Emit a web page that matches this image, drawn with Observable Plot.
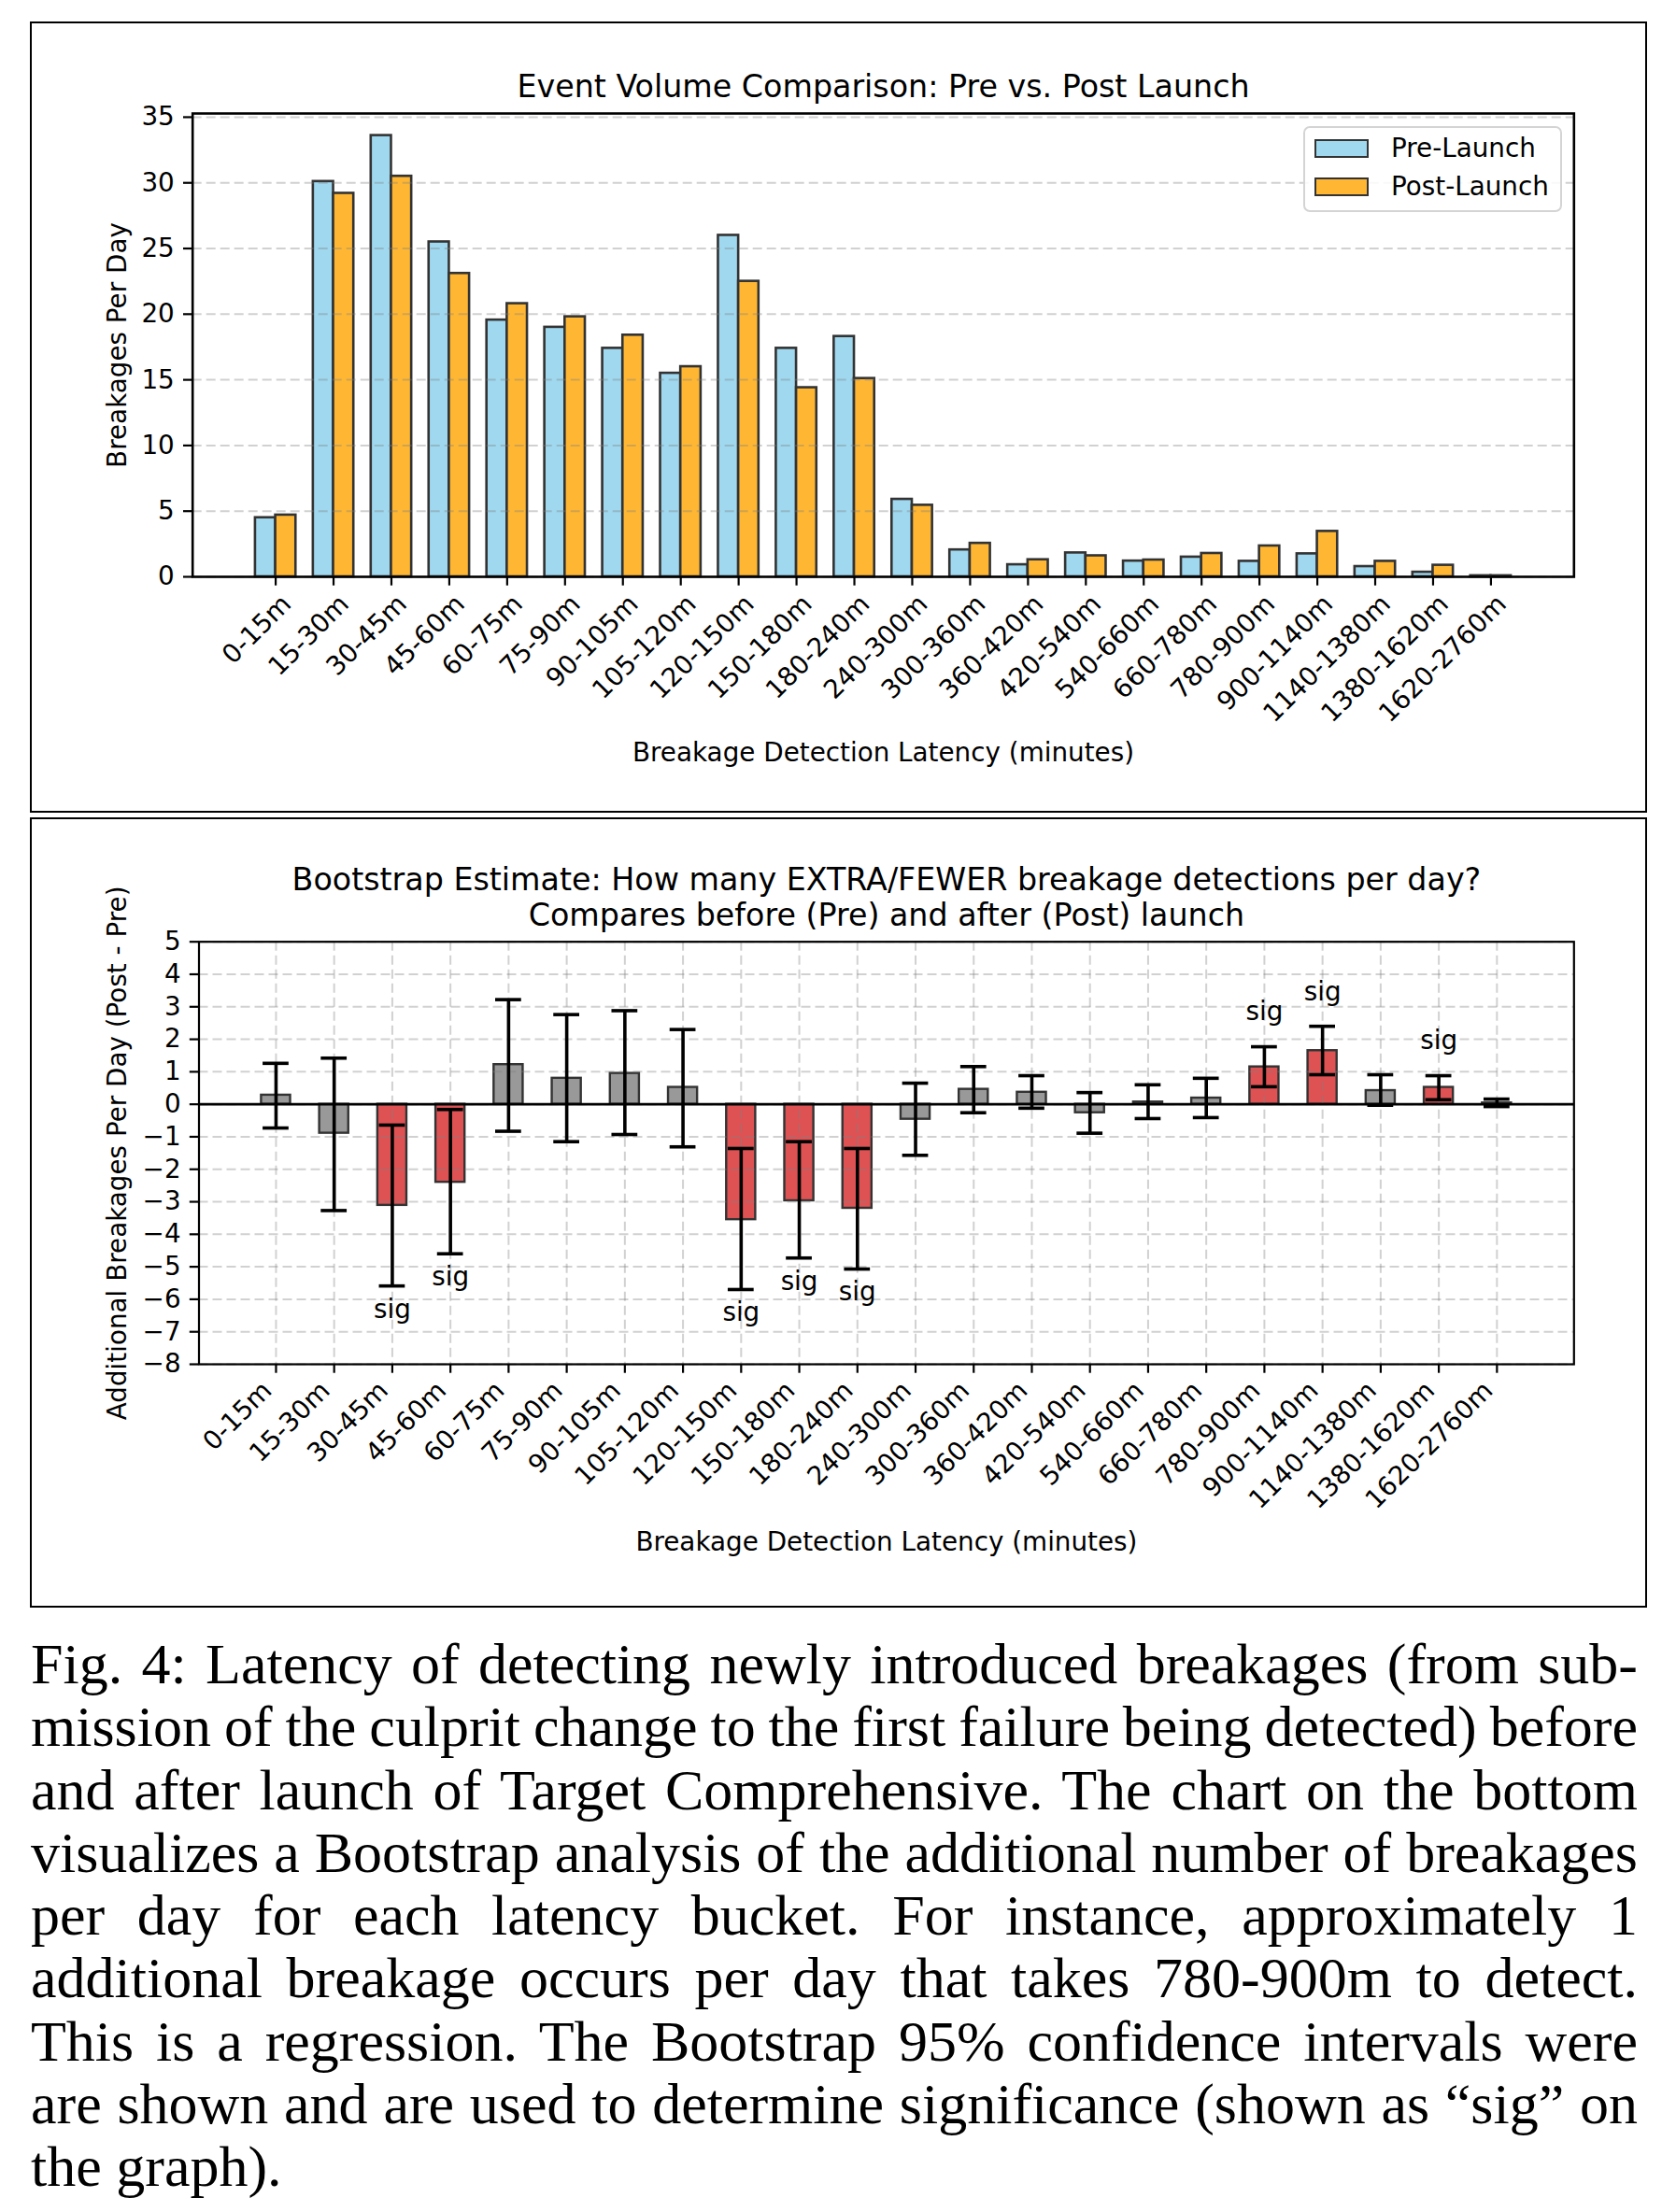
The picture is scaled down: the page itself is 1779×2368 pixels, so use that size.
<!DOCTYPE html>
<html>
<head>
<meta charset="utf-8">
<script src="https://cdn.jsdelivr.net/npm/d3@7"></script>
<script src="https://cdn.jsdelivr.net/npm/@observablehq/plot@0.6"></script>
<style>
  html, body { margin: 0; padding: 0; background: #fff; }
  #page { position: relative; width: 1779px; height: 2368px; background: #fff; overflow: hidden; }
  .box { position: absolute; border: 2.4px solid #000; box-sizing: border-box; pointer-events: none; }
  .chart { position: absolute; left: 0; }
  .legend { position: absolute; box-sizing: border-box; border: 2px solid #d4d4d4; border-radius: 7px; background: rgba(255,255,255,0.85);
            font-family: "DejaVu Sans", sans-serif; font-size: 27.8px; color: #000; }
  .legend .row { position: absolute; left: 0; height: 20px; width: 100%; }
  .legend .sw { position: absolute; left: 10px; top: 0; width: 58px; height: 20px; box-sizing: border-box; border: 2.5px solid #333; }
  .legend .lab { position: absolute; left: 92px; top: 50%; transform: translateY(-52%); white-space: nowrap; line-height: 1; }
  #caption { position: absolute; left: 33px; top: 1748px; width: 1720px; font-family: "Liberation Serif", "Times New Roman", serif;
             font-size: 62px; line-height: 67.3px; color: #000; }
  #caption .ln { white-space: nowrap; text-align: left; }
</style>
</head>
<body>
<div id="page"></div>
<script>
// ---------------- data ----------------
const categories = ["0-15m","15-30m","30-45m","45-60m","60-75m","75-90m","90-105m","105-120m","120-150m","150-180m","180-240m","240-300m","300-360m","360-420m","420-540m","540-660m","660-780m","780-900m","900-1140m","1140-1380m","1380-1620m","1620-2760m"];

const preLaunch  = [4.5, 30.1, 33.6, 25.5, 19.55, 19.0, 17.4, 15.5, 26.0, 17.4, 18.3, 5.9, 2.05, 0.92, 1.82, 1.2, 1.5, 1.18, 1.75, 0.78, 0.35, 0.08];
const postLaunch = [4.7, 29.2, 30.5, 23.1, 20.8, 19.8, 18.4, 16.0, 22.5, 14.4, 15.1, 5.45, 2.55, 1.3, 1.6, 1.28, 1.78, 2.35, 3.46, 1.18, 0.88, 0.08];

const diffEstimate = [0.28, -0.89, -3.11, -2.40, 1.22, 0.80, 0.95, 0.52, -3.55, -2.97, -3.20, -0.46, 0.46, 0.37, -0.26, 0.07, 0.19, 1.15, 1.65, 0.42, 0.52, 0.04];
const ciLow  = [-0.73, -3.27, -5.59, -4.60, -0.83, -1.15, -0.93, -1.31, -5.70, -4.73, -5.07, -1.57, -0.26, -0.12, -0.89, -0.44, -0.41, 0.54, 0.91, -0.03, 0.14, -0.07];
const ciHigh = [1.26, 1.42, -0.64, -0.16, 3.22, 2.76, 2.88, 2.30, -1.36, -1.15, -1.36, 0.65, 1.16, 0.88, 0.36, 0.60, 0.80, 1.77, 2.40, 0.91, 0.88, 0.16];

const topYTicks = [0, 5, 10, 15, 20, 25, 30, 35];
const bottomYTicks = [-8, -7, -6, -5, -4, -3, -2, -1, 0, 1, 2, 3, 4, 5];

const seriesNames = ["Pre-Launch", "Post-Launch"];
const topTitle = "Event Volume Comparison: Pre vs. Post Launch";
const topYLabel = "Breakages Per Day";
const xLabel = "Breakage Detection Latency (minutes)";
const bottomTitle = ["Bootstrap Estimate: How many EXTRA/FEWER breakage detections per day?", "Compares before (Pre) and after (Post) launch"];
const bottomYLabel = "Additional Breakages Per Day (Post - Pre)";
const sigLabel = "sig";

const captionLines = [
  "Fig. 4: Latency of detecting newly introduced breakages (from sub-",
  "mission of the culprit change to the first failure being detected) before",
  "and after launch of Target Comprehensive. The chart on the bottom",
  "visualizes a Bootstrap analysis of the additional number of breakages",
  "per day for each latency bucket. For instance, approximately 1",
  "additional breakage occurs per day that takes 780-900m to detect.",
  "This is a regression. The Bootstrap 95% confidence intervals were",
  "are shown and are used to determine significance (shown as \u201csig\u201d on",
  "the graph)."
];

// ---------------- styles ----------------
const PRE_COLOR = "#9fd8ef";
const POST_COLOR = "#ffb733";
const EDGE = "#333333";
const SIG_COLOR = "#de5254";
const NS_COLOR = "#999999";
const FONT = "DejaVu Sans";
const TICK_FS = 27.8;
const TITLE_FS = 33.3;

const page = document.getElementById("page");
const idx = categories.map((c, i) => i);

// ---------------- top chart ----------------
const preData = categories.map((c, i) => ({i, cat: c, value: preLaunch[i]}));
const postData = categories.map((c, i) => ({i, cat: c, value: postLaunch[i]}));
const halfW = 0.35;

const topChart = Plot.plot({
  width: 1779, height: 868,
  marginLeft: 205.7, marginRight: 94.7, marginTop: 121, marginBottom: 251,
  x: {type: "linear", domain: [-1.435, 22.435], axis: null},
  y: {domain: [0, 35.28], axis: null},
  style: {fontFamily: FONT, fontSize: TICK_FS + "px", color: "#000", background: "transparent", overflow: "visible"},
  marks: [
    Plot.rect(preData, {x1: d => d.i - halfW, x2: d => d.i, y1: () => 0, y2: "value", fill: PRE_COLOR, stroke: EDGE, strokeWidth: 2.6}),
    Plot.rect(postData, {x1: d => d.i, x2: d => d.i + halfW, y1: () => 0, y2: "value", fill: POST_COLOR, stroke: EDGE, strokeWidth: 2.6}),
    Plot.gridY({ticks: topYTicks, stroke: "#808080", strokeOpacity: 0.36, strokeWidth: 2, strokeDasharray: "10,5"}),
    Plot.axisY({ticks: topYTicks, tickSize: 9.7, tickPadding: 9.7, strokeWidth: 2.2, label: null, fontSize: TICK_FS, tickFormat: d => String(d)}),
    Plot.axisX({ticks: idx, tickSize: 9.7, strokeWidth: 2.2, label: null, tickFormat: () => ""}),
    Plot.text(categories, {x: (d, i) => i, frameAnchor: "bottom", text: d => d, rotate: -45, textAnchor: "end", lineAnchor: "top", dy: 17, dx: 4, fontSize: TICK_FS}),
    Plot.frame({stroke: "#000", strokeWidth: 2.6}),
    Plot.text([topTitle], {frameAnchor: "top", text: d => d, dy: -28, lineAnchor: "middle", textAnchor: "middle", fontSize: TITLE_FS}),
    Plot.text([xLabel], {frameAnchor: "bottom", text: d => d, dy: 189, lineAnchor: "middle", textAnchor: "middle", fontSize: TICK_FS}),
    Plot.text([topYLabel], {frameAnchor: "left", text: d => d, dx: -80, rotate: -90, lineAnchor: "middle", textAnchor: "middle", fontSize: TICK_FS})
  ]
});
topChart.classList.add("chart");
topChart.style.top = "0px";
page.appendChild(topChart);

// legend (HTML overlay)
const legend = document.createElement("div");
legend.className = "legend";
Object.assign(legend.style, {left: "1395px", top: "135px", width: "277px", height: "92px"});
[PRE_COLOR, POST_COLOR].forEach((col, k) => {
  const row = document.createElement("div");
  row.className = "row";
  row.style.top = (k === 0 ? 11.5 : 52.5) + "px";
  const sw = document.createElement("div");
  sw.className = "sw";
  sw.style.background = col;
  const lab = document.createElement("div");
  lab.className = "lab";
  lab.textContent = seriesNames[k];
  row.appendChild(sw); row.appendChild(lab);
  legend.appendChild(row);
});
page.appendChild(legend);

// ---------------- bottom chart ----------------
const boot = categories.map((c, i) => ({
  i, cat: c, value: diffEstimate[i], lo: ciLow[i], hi: ciHigh[i],
  sig: ciLow[i] > 0 || ciHigh[i] < 0
}));
const sigUp = boot.filter(d => d.sig && d.value > 0);
const sigDown = boot.filter(d => d.sig && d.value < 0);
const barHalf = 0.25;
const capHalf = 0.223;

const bottomChart = Plot.plot({
  width: 1779, height: 845,
  marginLeft: 212.5, marginRight: 94.7, marginTop: 131.7, marginBottom: 261,
  x: {type: "linear", domain: [-1.325, 22.325], axis: null},
  y: {domain: [-8, 5], axis: null},
  style: {fontFamily: FONT, fontSize: TICK_FS + "px", color: "#000", background: "transparent", overflow: "visible"},
  marks: [
    Plot.rect(boot, {x1: d => d.i - barHalf, x2: d => d.i + barHalf, y1: () => 0, y2: "value",
                     fill: d => d.sig ? SIG_COLOR : NS_COLOR, stroke: EDGE, strokeWidth: 2.4}),
    Plot.gridY({ticks: bottomYTicks, stroke: "#808080", strokeOpacity: 0.36, strokeWidth: 2, strokeDasharray: "10,5"}),
    Plot.gridX({ticks: idx, stroke: "#808080", strokeOpacity: 0.36, strokeWidth: 2, strokeDasharray: "10,5"}),
    Plot.ruleY([0], {stroke: "#000", strokeWidth: 2.6}),
    Plot.ruleX(boot, {x: "i", y1: "lo", y2: "hi", stroke: "#000", strokeWidth: 3.6}),
    Plot.ruleY(boot, {y: "lo", x1: d => d.i - capHalf, x2: d => d.i + capHalf, stroke: "#000", strokeWidth: 3.6}),
    Plot.ruleY(boot, {y: "hi", x1: d => d.i - capHalf, x2: d => d.i + capHalf, stroke: "#000", strokeWidth: 3.6}),
    Plot.text(sigUp, {x: "i", y: "hi", text: () => sigLabel, dy: -37, lineAnchor: "middle", fontSize: TICK_FS}),
    Plot.text(sigDown, {x: "i", y: "lo", text: () => sigLabel, dy: 25, lineAnchor: "middle", fontSize: TICK_FS}),
    Plot.axisY({ticks: bottomYTicks, tickSize: 9.7, tickPadding: 9.7, strokeWidth: 2.2, label: null, fontSize: TICK_FS}),
    Plot.axisX({ticks: idx, tickSize: 9.7, strokeWidth: 2.2, label: null, tickFormat: () => ""}),
    Plot.text(categories, {x: (d, i) => i, frameAnchor: "bottom", text: d => d, rotate: -45, textAnchor: "end", lineAnchor: "top", dy: 16, dx: -17, fontSize: TICK_FS}),
    Plot.frame({stroke: "#000", strokeWidth: 2.2}),
    Plot.text([bottomTitle[0]], {frameAnchor: "top", text: d => d, dy: -66, lineAnchor: "middle", textAnchor: "middle", fontSize: TITLE_FS}),
    Plot.text([bottomTitle[1]], {frameAnchor: "top", text: d => d, dy: -28, lineAnchor: "middle", textAnchor: "middle", fontSize: TITLE_FS}),
    Plot.text([xLabel], {frameAnchor: "bottom", text: d => d, dy: 191, lineAnchor: "middle", textAnchor: "middle", fontSize: TICK_FS}),
    Plot.text([bottomYLabel], {frameAnchor: "left", text: d => d, dx: -87, rotate: -90, lineAnchor: "middle", textAnchor: "middle", fontSize: TICK_FS})
  ]
});
bottomChart.classList.add("chart");
bottomChart.style.top = "876px";
page.appendChild(bottomChart);

// ---------------- panel borders ----------------
function box(l, t, r, b) {
  const d = document.createElement("div");
  d.className = "box";
  Object.assign(d.style, {left: l + "px", top: t + "px", width: (r - l) + "px", height: (b - t) + "px"});
  page.appendChild(d);
}
box(32, 23, 1763, 869.5);
box(32, 874.5, 1763, 1720.5);

// ---------------- caption (justified by word spacing, like TeX) ----------------
const cap = document.createElement("div");
cap.id = "caption";
page.appendChild(cap);
const CAP_WIDTH = 1720;
captionLines.forEach((t, k) => {
  const ln = document.createElement("div");
  ln.className = "ln";
  const span = document.createElement("span");
  span.textContent = t;
  ln.appendChild(span);
  cap.appendChild(ln);
  if (k < captionLines.length - 1) {
    const w = span.getBoundingClientRect().width;
    const n = (t.match(/ /g) || []).length;
    if (n > 0) span.style.wordSpacing = ((CAP_WIDTH - w) / n) + "px";
  }
});
</script>
</body>
</html>
